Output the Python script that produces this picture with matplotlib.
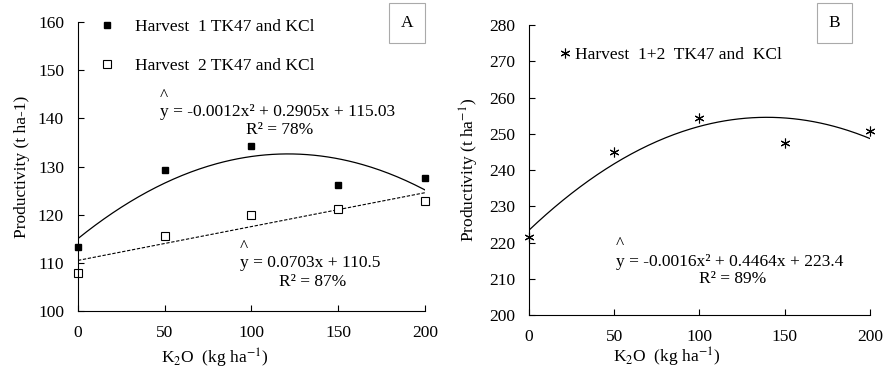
import matplotlib
matplotlib.use('Agg')

import numpy as np
import matplotlib.pyplot as plt

plt.rcParams['font.family'] = ['Liberation Serif', 'DejaVu Serif']
plt.rcParams['mathtext.fontset'] = 'stix'
plt.rcParams['font.size'] = 12.5

# K2O doses (kg/ha)
doses = [0, 50, 100, 150, 200]

# Panel A
harvest1 = [113.2, 129.2, 134.2, 126.1, 127.7]
harvest2 = [107.8, 115.6, 119.9, 121.1, 122.8]
fit1_coef = [-0.0012, 0.2905, 115.03]
fit2_coef = [0.0703, 110.5]

# Panel B
harvest12 = [221.4, 245.0, 254.4, 247.4, 250.8]
fit12_coef = [-0.0016, 0.4464, 223.4]

xs = np.linspace(0, 200, 201)
fs = 12.5

fig = plt.figure(figsize=(8.88, 3.70), dpi=100)
ax1 = fig.add_axes([0.0878, 0.1595, 0.3908, 0.781])
ax2 = fig.add_axes([0.5957, 0.1486, 0.384, 0.7838])

for ax in (ax1, ax2):
    ax.spines['top'].set_visible(False)
    ax.spines['right'].set_visible(False)
    ax.tick_params(direction='in', length=4, width=0.8, labelsize=fs, pad=10)
    ax.set_xlim(0, 200)
    ax.set_xticks([0, 50, 100, 150, 200])

# ---- A
ax1.set_ylim(100, 160)
ax1.set_yticks(range(100, 161, 10))
ax1.plot(xs, np.polyval(fit1_coef, xs), color='black', linewidth=0.9)
ax1.plot(xs, np.polyval(fit2_coef, xs), '--', color='black', linewidth=0.8, dashes=(3, 1.5))
ax1.plot(doses, harvest1, 's', color='black', markersize=5, linestyle='none',
         clip_on=False, label='Harvest  1 TK47 and KCl')
ax1.plot(doses, harvest2, 's', markerfacecolor='white', markeredgecolor='black',
         markeredgewidth=0.8, markersize=5.5, linestyle='none', clip_on=False,
         label='Harvest  2 TK47 and KCl')
ax1.set_ylabel('Productivity (t ha-1)', fontsize=fs, labelpad=6)
ax1.set_xlabel(r'K$_2$O  (kg ha$^{-1}$)', fontsize=fs)
ax1.xaxis.set_label_coords(0.395, -0.125)
ax1.legend(loc='upper left', bbox_to_anchor=(-0.012, 1.065), frameon=False,
           labelspacing=1.3, handletextpad=0.6, fontsize=fs)

ax1.text(0.235, 0.745, '^', transform=ax1.transAxes, fontsize=fs, va='center')
ax1.text(0.235, 0.689, 'y = -0.0012x² + 0.2905x + 115.03', transform=ax1.transAxes,
         fontsize=fs, va='center')
ax1.text(0.582, 0.626, 'R² = 78%', transform=ax1.transAxes, fontsize=fs, ha='center', va='center')
ax1.text(0.467, 0.220, '^', transform=ax1.transAxes, fontsize=fs, va='center')
ax1.text(0.467, 0.166, 'y = 0.0703x + 110.5', transform=ax1.transAxes, fontsize=fs, va='center')
ax1.text(0.675, 0.10, 'R² = 87%', transform=ax1.transAxes, fontsize=fs, ha='center', va='center')
ax1.text(0.948, 0.997, 'A', transform=ax1.transAxes, fontsize=fs, ha='center', va='center',
         bbox=dict(boxstyle='square,pad=0.68', facecolor='white', edgecolor='#aaaaaa', linewidth=0.8))

# ---- B
ax2.set_ylim(200, 280)
ax2.set_yticks(range(200, 281, 10))
ax2.plot(xs, np.polyval(fit12_coef, xs), color='black', linewidth=0.9)
ax2.plot(doses, harvest12, marker=(6, 2, 0), color='black', markersize=7,
         markeredgewidth=0.8, linestyle='none', clip_on=False,
         label='Harvest  1+2  TK47 and  KCl')
ax2.set_ylabel(r'Productivity (t ha$^{-1}$)', fontsize=fs, labelpad=6)
ax2.set_xlabel(r'K$_2$O  (kg ha$^{-1}$)', fontsize=fs)
ax2.xaxis.set_label_coords(0.405, -0.105)
ax2.legend(loc='upper left', bbox_to_anchor=(0.034, 0.98), frameon=False,
           handletextpad=0.1, handlelength=1.0, fontsize=fs)

ax2.text(0.255, 0.245, '^', transform=ax2.transAxes, fontsize=fs, va='center')
ax2.text(0.255, 0.183, 'y = -0.0016x² + 0.4464x + 223.4', transform=ax2.transAxes,
         fontsize=fs, va='center')
ax2.text(0.598, 0.124, 'R² = 89%', transform=ax2.transAxes, fontsize=fs, ha='center', va='center')
ax2.text(0.896, 1.007, 'B', transform=ax2.transAxes, fontsize=fs, ha='center', va='center',
         bbox=dict(boxstyle='square,pad=0.68', facecolor='white', edgecolor='#aaaaaa', linewidth=0.8))

plt.savefig('out.png', dpi=100)
plt.close(fig)
